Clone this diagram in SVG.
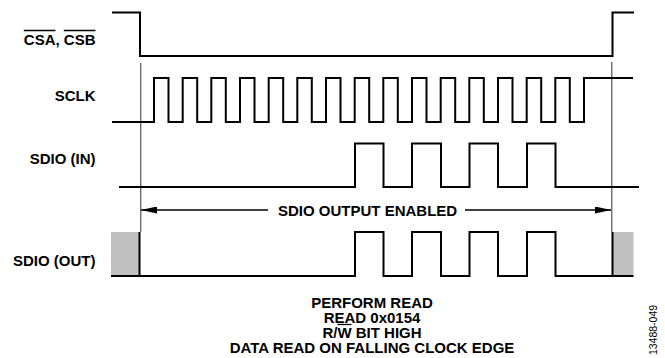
<svg xmlns="http://www.w3.org/2000/svg" width="665" height="358" viewBox="0 0 665 358">
<style>
text{font-family:"Liberation Sans",Arial,sans-serif;font-weight:bold;font-size:15px;fill:#000}
.lbl{text-anchor:end}
.sig{fill:none;stroke:#000;stroke-width:2;stroke-linejoin:miter}
.guide{stroke:#333;stroke-width:1;fill:none}
.ovl{stroke:#000;stroke-width:1.3}
.hatch{fill:#c0c0c0;stroke:none}
.arr{stroke:#000;stroke-width:1.3;fill:none}
.note{text-anchor:middle}
.fig{font-weight:normal;font-size:10.5px;text-anchor:middle}
</style>
<defs>
<marker id="ah" markerWidth="16" markerHeight="7" refX="16" refY="3.5" orient="auto-start-reverse" markerUnits="userSpaceOnUse">
<path d="M0,0 L16,3.5 L0,7 z" fill="#000"/>
</marker>
</defs>

<g id="guides">
<line class="guide" x1="140.8" y1="63" x2="140.8" y2="232"/>
<line class="guide" x1="611.8" y1="62" x2="611.8" y2="232"/>
</g>

<g id="csa">
<text class="lbl" x="95.5" y="45">CSA, CSB</text>
<line class="ovl" x1="23.8" y1="30.5" x2="55.5" y2="30.5"/>
<line class="ovl" x1="63.8" y1="30.5" x2="95.5" y2="30.5"/>
<path class="sig" d="M112,12.5 H140 V56 H612.5 V12.5 H634"/>
</g>

<g id="sclk">
<text class="lbl" x="95.5" y="101">SCLK</text>
<path class="sig" d="M112,122 H154 V78 H168.5 V122 H182.7 V78 H197.2 V122 H211.3 V78 H225.8 V122 H240 V78 H254.5 V122 H268.7 V78 H283.2 V122 H297.3 V78 H311.8 V122 H326 V78 H340.5 V122 H354.7 V78 H369.2 V122 H383.3 V78 H397.8 V122 H412 V78 H426.5 V122 H440.7 V78 H455.2 V122 H469.3 V78 H483.8 V122 H498 V78 H512.5 V122 H526.7 V78 H541.2 V122 H555.3 V78 H569.8 V122 H584 V78 H633"/>
</g>

<g id="sdio-in">
<text class="lbl" x="95.5" y="164">SDIO (IN)</text>
<path class="sig" d="M119,187 H355 V143.5 H383.5 V187 H412 V143.5 H441 V187 H469.5 V143.5 H498 V187 H527 V143.5 H555.5 V187 H639"/>
</g>

<g id="connectors">
<line class="arr" x1="268" y1="210" x2="141" y2="210" marker-end="url(#ah)"/>
<line class="arr" x1="465" y1="210" x2="611" y2="210" marker-end="url(#ah)"/>
<text x="278" y="216">SDIO OUTPUT ENABLED</text>
</g>

<g id="sdio-out">
<text class="lbl" x="95.5" y="266">SDIO (OUT)</text>
<rect class="hatch" x="111" y="232" width="28.5" height="44"/>
<rect class="hatch" x="612.5" y="232" width="21" height="44"/>
<line class="sig" x1="139.5" y1="232" x2="139.5" y2="277"/>
<line class="sig" x1="612.5" y1="232" x2="612.5" y2="277"/>
<path class="sig" d="M111,276 H355 V232 H383.5 V276 H412 V232 H441 V276 H469.5 V232 H498 V276 H527 V232 H555.5 V276 H633.5"/>
</g>

<g id="notes">
<text class="note" x="372" y="308">PERFORM READ</text>
<text class="note" x="372" y="323">READ 0x0154</text>
<text class="note" x="372" y="338">R/W BIT HIGH</text>
<line class="ovl" x1="337.4" y1="324.5" x2="351.5" y2="324.5"/>
<text class="note" x="372" y="353">DATA READ ON FALLING CLOCK EDGE</text>
</g>

<text class="fig" transform="translate(657,330) rotate(-90)">13488-049</text>
</svg>
